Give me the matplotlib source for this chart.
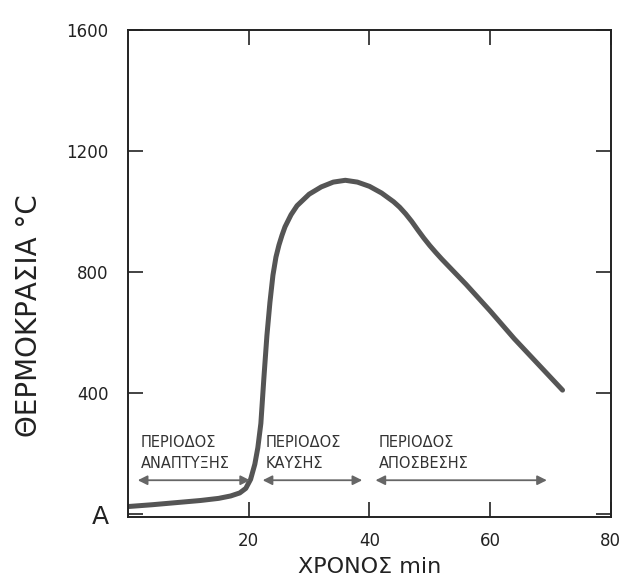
import matplotlib.pyplot as plt

# Fire temperature curve
time_min = [0, 4, 8, 12, 15, 17, 18.5, 19.5, 20.3, 21.0, 21.5, 22.0, 22.5, 23.0,
            23.5, 24.0, 24.5, 25.0, 25.5, 26.0, 27.0, 28, 30, 32, 34, 36, 38, 40,
            42, 44, 45, 46, 47, 48, 49, 50, 51, 52, 56, 60, 64, 68, 72]
temp_c = [25, 31, 38, 45, 52, 60, 70, 85, 115, 165, 220, 300, 450, 590,
          700, 790, 850, 890, 922, 950, 990, 1020, 1058, 1082, 1098, 1104, 1098, 1084,
          1062, 1033, 1015, 993, 968, 940, 913, 888, 865, 843, 760, 672, 580, 495, 410]

# Periods of the fire
period_names = ["ΠΕΡΙΟΔΟΣ\nΑΝΑΠΤΥΞΗΣ", "ΠΕΡΙΟΔΟΣ\nΚΑΥΣΗΣ", "ΠΕΡΙΟΔΟΣ\nΑΠΟΣΒΕΣΗΣ"]
period_start = [1.6, 22.3, 41.0]
period_end = [20.2, 38.8, 69.4]

x_ticks = [20, 40, 60, 80]
y_ticks = [0, 400, 800, 1200, 1600]
y_tick_labels = ["A", "400", "800", "1200", "1600"]

fig = plt.figure(figsize=(6.22, 5.83), dpi=100)
ax = fig.add_axes([0.206, 0.113, 0.776, 0.835])

ax.plot(time_min, temp_c, color="#555555", lw=3.6, solid_joinstyle="round",
        solid_capstyle="round")

for name, x0, x1 in zip(period_names, period_start, period_end):
    ax.annotate("", xy=(x1, 112), xytext=(x0, 112),
                arrowprops=dict(arrowstyle="<|-|>", color="#666666", lw=1.3,
                                mutation_scale=14, shrinkA=0, shrinkB=0))
    ax.text(x0 + 0.5, 202, name, ha="left", va="center", fontsize=10.5,
            linespacing=1.45, color="#333333")

ax.set_xlim(0, 80)
ax.set_ylim(-10, 1600)
ax.set_xticks(x_ticks)
ax.set_yticks(y_ticks)
ax.set_yticklabels(y_tick_labels)
ax.tick_params(direction="in", length=11, width=1.2, top=True, right=True,
               labelsize=12, colors="#222222")
ax.tick_params(axis="x", pad=11)
ax.tick_params(axis="y", pad=14)
ax.get_yticklabels()[0].set_fontsize(18)

for s in ax.spines.values():
    s.set_linewidth(1.4)
    s.set_color("#222222")

ax.set_xlabel("ΧΡΟΝΟΣ min", fontsize=16, labelpad=5, color="#222222")
ax.set_ylabel("ΘΕΡΜΟΚΡΑΣΙΑ °C", fontsize=20, color="#222222")
ax.yaxis.set_label_coords(-0.176, 0.413)

fig.savefig("out.png", dpi=100)
